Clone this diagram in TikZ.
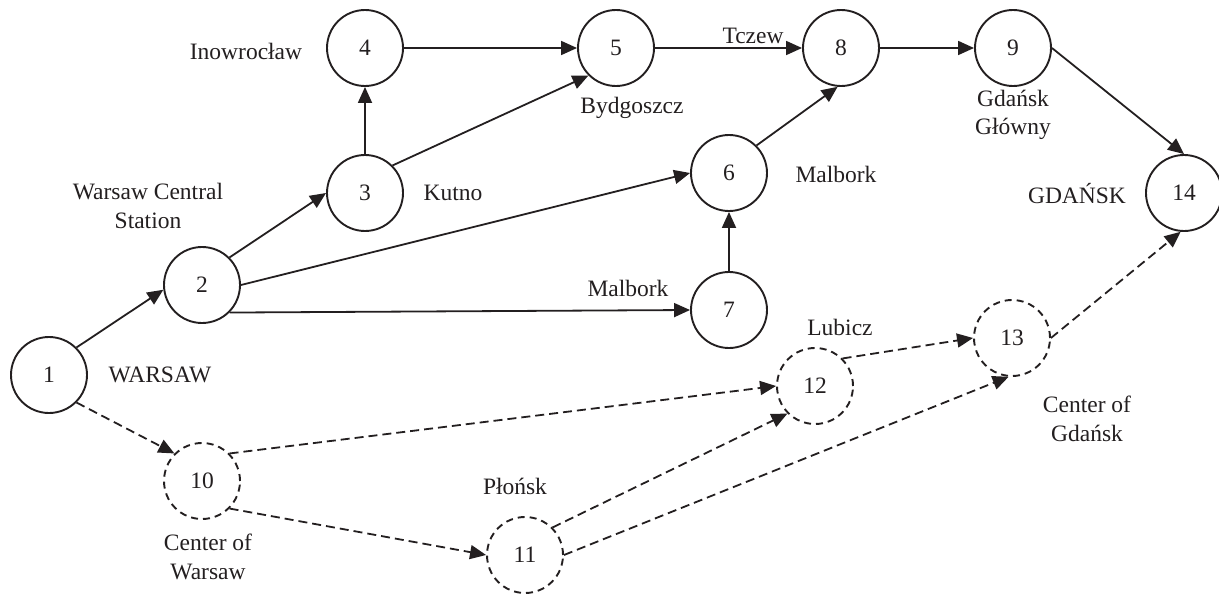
\documentclass[tikz,border=0pt]{standalone}
\usepackage{fontspec}
\setmainfont{Liberation Serif}
\usetikzlibrary{arrows.meta}
\definecolor{ink}{RGB}{35,31,32}
\begin{document}
\begin{tikzpicture}[x=1pt,y=-1pt,
  every node/.style={font=\fontsize{23.5}{28.5}\selectfont, text=ink},
  stn/.style={circle, draw=ink, line width=1.9pt, minimum size=76pt, inner sep=0pt},
  dstn/.style={stn, dash pattern=on 7pt off 5pt},
  lbl/.style={align=center, inner sep=0pt},
  arr/.style={draw=ink, line width=1.8pt, -{Triangle[length=16pt,width=14pt]}},
  darr/.style={arr, dash pattern=on 9pt off 5pt}
]
\useasboundingbox (0,0) rectangle (1219,594);

% stations
\node[stn]  (n1)  at (49,375)   {1};
\node[stn]  (n2)  at (202,285)  {2};
\node[stn]  (n3)  at (365,193)  {3};
\node[stn]  (n4)  at (365,48)   {4};
\node[stn]  (n5)  at (616,48)   {5};
\node[stn]  (n6)  at (729,173)  {6};
\node[stn]  (n7)  at (729,310)  {7};
\node[stn]  (n8)  at (841,48)   {8};
\node[stn]  (n9)  at (1013,48)  {9};
\node[stn]  (n14) at (1184,193) {14};
\node[dstn] (n10) at (202,481)  {10};
\node[dstn] (n11) at (525,555)  {11};
\node[dstn] (n12) at (815,386)  {12};
\node[dstn] (n13) at (1012,338) {13};

% labels
\node[lbl] (lWarsaw)   at (160,375)  {WARSAW};
\node[lbl] (lCentral)  at (148,206)  {Warsaw Central\\Station};
\node[lbl] (lIno)      at (246,51)   {Inowrocław};
\node[lbl] (lKutno)    at (453,193)  {Kutno};
\node[lbl] (lByd)      at (632,108)  {Bydgoszcz};
\node[lbl] (lTczew)    at (753,36)   {Tczew};
\node[lbl] (lMal6)     at (836,174)  {Malbork};
\node[lbl] (lMal7)     at (628,288)  {Malbork};
\node[lbl] (lGG)       at (1013,115) {Gdańsk\\Główny};
\node[lbl] (lGdansk)   at (1077,194) {GDAŃSK};
\node[lbl] (lLubicz)   at (840,327)  {Lubicz};
\node[lbl] (lCG)       at (1087,419) {Center of\\Gdańsk};
\node[lbl] (lPlonsk)   at (515,486)  {Płońsk};
\node[lbl] (lCW)       at (208,557)  {Center of\\Warsaw};

% solid connections
\draw[arr] (n1.45)  -- (n2.187);
\draw[arr] (n2.45)  -- (n3.180);
\draw[arr] (n3.90)  -- (n4.270);
\draw[arr] (n3.45)  -- (n5.225);
\draw[arr] (n4.0)   -- (n5.180);
\draw[arr] (n2.0)   -- (n6.180);
\draw[arr] (n2.-45) -- (n7.180);
\draw[arr] (n7.90)  -- (n6.270);
\draw[arr] (n6.45)  -- (n8.265);
\draw[arr] (n5.0)   -- (n8.180);
\draw[arr] (n8.0)   -- (n9.180);
\draw[arr] (n9.0)   -- (n14.90);

% dashed connections
\draw[darr] (n1.-45)  -- (n10.135);
\draw[darr] (n10.45)  -- (n12.180);
\draw[darr] (n10.-45) -- (n11.180);
\draw[darr] (n11.45)  -- (n12.225);
\draw[darr] (n11.0)   -- (n13.265);
\draw[darr] (n12.45)  -- (n13.180);
\draw[darr] (n13.0)   -- (n14.265);
\end{tikzpicture}
\end{document}
